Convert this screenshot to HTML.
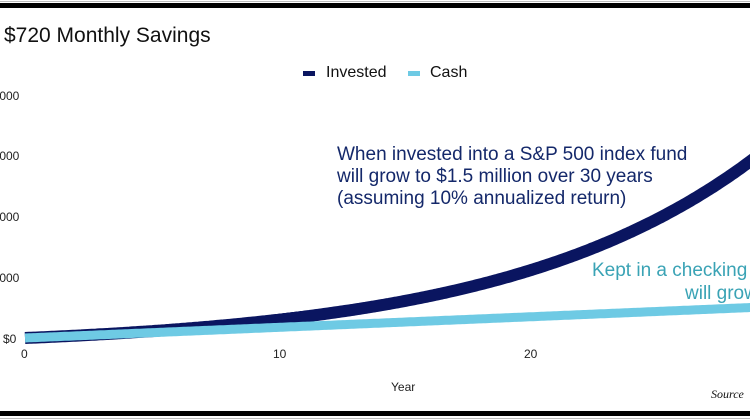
<!DOCTYPE html>
<html><head><meta charset="utf-8"><style>
html,body{margin:0;padding:0;background:#fff;}
body{width:750px;height:420px;overflow:hidden;position:relative;font-family:"Liberation Sans",sans-serif;}
.t{position:absolute;white-space:nowrap;}
</style></head><body>
<div style="position:absolute;left:0;top:3px;width:750px;height:5px;background:#000"></div>
<div style="position:absolute;left:0;top:1px;width:750px;height:1px;background:#bbb"></div>
<div style="position:absolute;left:0;top:411px;width:750px;height:5px;background:#000"></div>
<div style="position:absolute;left:0;top:418px;width:750px;height:1px;background:#bbb"></div>
<div class="t" style="left:4px;top:24px;font-size:21px;color:#111">$720 Monthly Savings</div>
<div style="position:absolute;left:303px;top:71px;width:12px;height:5px;background:#0a1560"></div>
<div class="t" style="left:326px;top:64px;font-size:16px;color:#111">Invested</div>
<div style="position:absolute;left:408px;top:71px;width:12px;height:5px;background:#6ecae4"></div>
<div class="t" style="left:430px;top:64px;font-size:16px;color:#111">Cash</div>
<div class="t" style="left:-4px;top:89px;font-size:12px;color:#222">,000</div>
<div class="t" style="left:-4px;top:149px;font-size:12px;color:#222">,000</div>
<div class="t" style="left:-4px;top:210px;font-size:12px;color:#222">,000</div>
<div class="t" style="left:-4px;top:271px;font-size:12px;color:#222">,000</div>
<div class="t" style="left:3px;top:332px;font-size:12px;color:#222">$0</div>
<div class="t" style="left:21px;top:347px;font-size:12px;color:#222">0</div>
<div class="t" style="left:273px;top:347px;font-size:12px;color:#222">10</div>
<div class="t" style="left:524px;top:347px;font-size:12px;color:#222">20</div>
<div class="t" style="left:391px;top:380px;font-size:12px;color:#222">Year</div>
<div class="t" style="left:711px;top:387px;font-size:12px;font-style:italic;font-family:'Liberation Serif',serif;color:#111">Source</div>
<svg id="s" width="750" height="420" style="position:absolute;left:0;top:0"></svg>
<div class="t" style="left:337px;top:144px;font-size:19px;line-height:22px;color:#14286a">When invested into a S&amp;P 500 index fund<br>will grow to $1.5 million over 30 years<br>(assuming 10% annualized return)</div>
<div class="t" style="left:592px;top:259px;font-size:19px;line-height:23px;color:#3aa3b5">Kept in a checking a<br><span style="padding-left:93px">will grow to</span></div>
<script>
var s=document.getElementById('s');
function X(y){return 25+y*25.1;}
function Y(v){return 339-v*61/500000;}
var inv='',cash='',r=0.10/12;
for(var m=0;m<=360;m++){var yr=m/12;var fv=m==0?0:720*(Math.pow(1+r,m)-1)/r;var c=720*m;
inv+=(m?'L':'M')+X(yr).toFixed(1)+' '+(Y(fv)-1).toFixed(1);cash+=(m?'L':'M')+X(yr).toFixed(1)+' '+(Y(c)-1).toFixed(1);}
s.innerHTML='<path d="'+inv+'" fill="none" stroke="#0a1560" stroke-width="12"/><path d="'+cash+'" fill="none" stroke="#6ecae4" stroke-width="9"/>';
</script>
</body></html>
